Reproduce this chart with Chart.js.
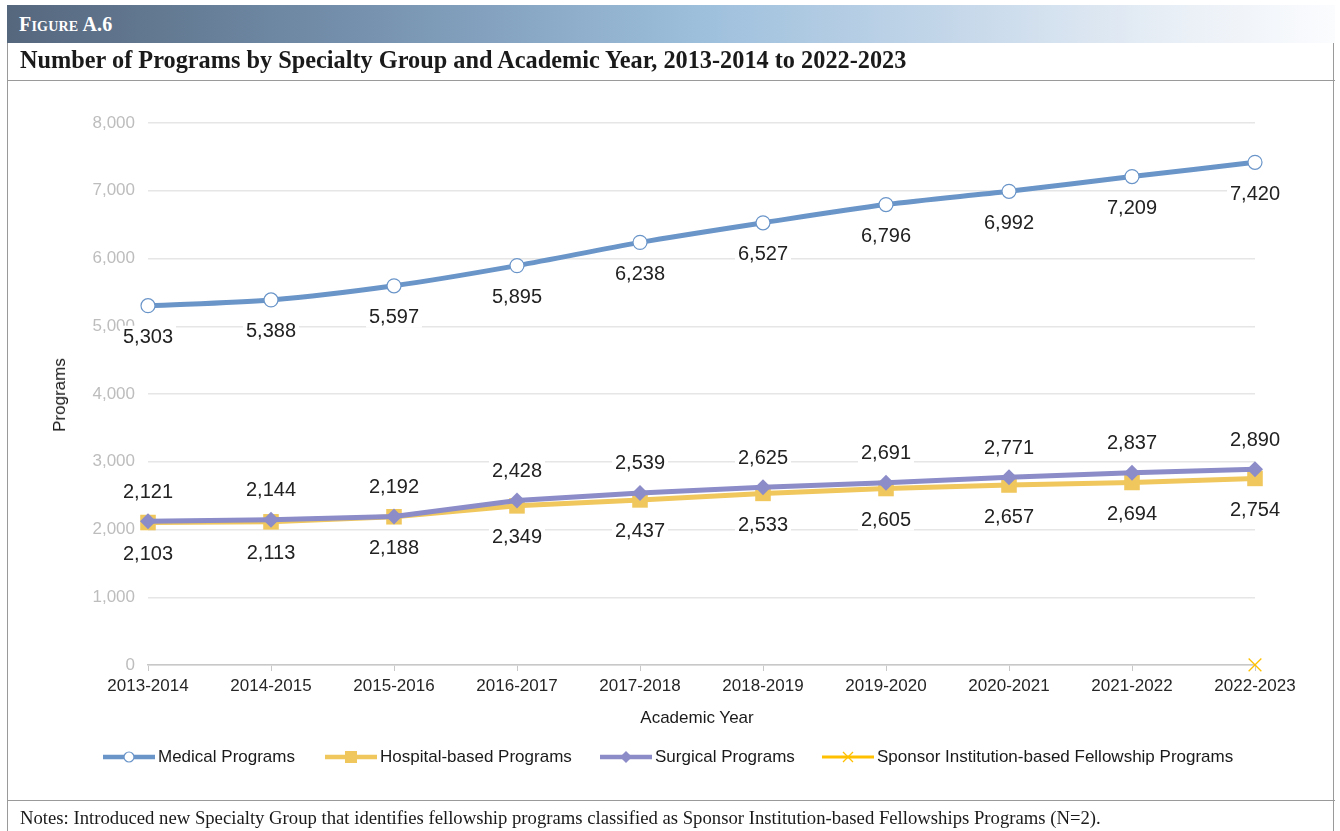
<!DOCTYPE html>
<html>
<head>
<meta charset="utf-8">
<script src="https://cdn.jsdelivr.net/npm/chart.js@4.4.1/dist/chart.umd.min.js"></script>
<style>
  html, body { margin:0; padding:0; background:#fff; }
  body { width:1340px; height:831px; position:relative; overflow:hidden; font-family:"Liberation Sans", Arial, sans-serif; }
  #wrap { position:absolute; left:0; top:0; width:1340px; height:831px; }
  .hdr { position:absolute; left:7px; top:5px; width:1328px; height:38px;
         background:linear-gradient(to right, #55677d 0%, #7793b0 28%, #9dbfdc 52%, #c6d8ea 72%, #e9eff6 88%, #fbfcfe 100%); }
  .hdr span { position:absolute; left:12px; top:8px; color:#fff; font-family:"Liberation Serif", serif; font-weight:bold; font-size:20px; font-variant:small-caps; letter-spacing:0.2px; }
  .box { position:absolute; left:7px; top:43px; width:1327px; height:788px; border-left:1px solid #9a9a9a; border-right:1px solid #9a9a9a; box-sizing:border-box; pointer-events:none; }
  .line1 { position:absolute; left:7px; top:80px; width:1328px; height:1px; background:#9a9a9a; }
  .line2 { position:absolute; left:7px; top:800px; width:1328px; height:1px; background:#9a9a9a; }
  .title { position:absolute; left:20px; top:46px; font-family:"Liberation Serif", serif; font-weight:bold; font-size:24.3px; color:#1a1a1a; white-space:nowrap; }
  .notes { position:absolute; left:20px; top:807px; font-family:"Liberation Serif", serif; font-size:18.7px; color:#1a1a1a; white-space:nowrap; }
  .ytitle { position:absolute; left:60px; top:395px; transform:translate(-50%,-50%) rotate(-90deg); font-size:17px; color:#1a1a1a; white-space:nowrap; }
  .xtitle { position:absolute; left:697px; top:718px; transform:translate(-50%,-50%); font-size:17px; color:#1a1a1a; white-space:nowrap; }
  .leg { position:absolute; top:747px; height:20px; font-size:17px; color:#1a1a1a; white-space:nowrap; }
  .leg svg { position:absolute; left:0; top:0; }
  .leg span { position:absolute; top:0px; line-height:20px; }
</style>
</head>
<body>
<div id="wrap"><canvas id="c"></canvas></div>
<div class="hdr"><span>Figure A.6</span></div>
<div class="box"></div>
<div class="line1"></div>
<div class="line2"></div>
<div class="title">Number of Programs by Specialty Group and Academic Year, 2013-2014 to 2022-2023</div>
<div class="ytitle">Programs</div>
<div class="xtitle">Academic Year</div>
<div id="legend"></div>
<div class="notes">Notes: Introduced new Specialty Group that identifies fellowship programs classified as Sponsor Institution-based Fellowships Programs (N=2).</div>
<script>
const years = ["2013-2014","2014-2015","2015-2016","2016-2017","2017-2018","2018-2019","2019-2020","2020-2021","2021-2022","2022-2023"];
const medical  = [5303, 5388, 5597, 5895, 6238, 6527, 6796, 6992, 7209, 7420];
const hospital = [2103, 2113, 2188, 2349, 2437, 2533, 2605, 2657, 2694, 2754];
const surgical = [2121, 2144, 2192, 2428, 2539, 2625, 2691, 2771, 2837, 2890];
const sponsor  = [null, null, null, null, null, null, null, null, null, 2];
const yTicks = [0, 1000, 2000, 3000, 4000, 5000, 6000, 7000, 8000];

const C_MED = "#6a95c9", C_HOS = "#f0c75c", C_SUR = "#8b8cc8", C_SPO = "#ffc000";
const fmt = v => v.toLocaleString("en-US");

const labelPlugin = {
  id: "valueLabels",
  afterDatasetsDraw(chart) {
    const ctx = chart.ctx;
    ctx.save();
    ctx.font = "20px 'Liberation Sans', Arial, sans-serif";
    ctx.textAlign = "center";
    ctx.textBaseline = "middle";
    chart.data.datasets.forEach((ds, i) => {
      if (!ds.labelPos) return;
      const meta = chart.getDatasetMeta(i);
      meta.data.forEach((pt, j) => {
        const v = ds.data[j];
        if (v == null) return;
        const y = pt.y + (ds.labelPos === "below" ? 31 : -30);
        const t = fmt(v);
        const w = ctx.measureText(t).width;
        ctx.fillStyle = "#fff";
        ctx.fillRect(pt.x - w/2 - 3, y - 11, w + 6, 22);
        ctx.fillStyle = "#222";
        ctx.fillText(t, pt.x, y + 1);
      });
    });
    ctx.restore();
  }
};

new Chart(document.getElementById("c"), {
  type: "line",
  data: {
    labels: years,
    datasets: [
      { label: "Medical Programs", data: medical, borderColor: C_MED, backgroundColor: "#fff",
        borderWidth: 5, tension: 0.3, pointStyle: "circle", pointRadius: 7, pointBorderWidth: 1.2,
        pointBorderColor: C_MED, pointBackgroundColor: "#fff", labelPos: "below", order: 3 },
      { label: "Hospital-based Programs", data: hospital, borderColor: C_HOS, backgroundColor: C_HOS,
        borderWidth: 5, tension: 0, pointStyle: "rect", pointRadius: 11, pointBorderWidth: 0,
        pointBackgroundColor: C_HOS, labelPos: "below", order: 2 },
      { label: "Surgical Programs", data: surgical, borderColor: C_SUR, backgroundColor: C_SUR,
        borderWidth: 5, tension: 0, pointStyle: "rectRot", pointRadius: 8, pointBorderWidth: 0,
        pointBackgroundColor: C_SUR, labelPos: "above", order: 1 },
      { label: "Sponsor Institution-based Fellowship Programs", data: sponsor, borderColor: C_SPO,
        backgroundColor: C_SPO, borderWidth: 3, showLine: false, pointStyle: "crossRot", pointRadius: 9,
        pointBorderWidth: 1.3, clip: false, order: 0 }
    ]
  },
  options: {
    responsive: true, maintainAspectRatio: false, animation: false,
    layout: { padding: { left: 0, right: 85, top: 123, bottom: 126 } },
    plugins: { legend: { display: false }, tooltip: { enabled: false } },
    scales: {
      x: {
        offset: false,
        grid: { display: true, drawOnChartArea: false, drawTicks: true, tickLength: 6, color: "#c8c8c8" },
        border: { display: true, color: "#c8c8c8", width: 1.5 },
        ticks: { color: "#262626", font: { size: 17, family: "'Liberation Sans', Arial" }, padding: 5, maxRotation: 0, autoSkip: false },
        afterFit: s => { s.height = 40; }
      },
      y: {
        min: 0, max: 8000,
        afterBuildTicks: s => { s.ticks = yTicks.map(v => ({ value: v })); },
        grid: { color: "#e6e6e6", lineWidth: 1.5, drawTicks: false },
        border: { display: false },
        ticks: { color: "#bdbdbd", font: { size: 17, family: "'Liberation Sans', Arial" }, padding: 13, callback: v => fmt(v) },
        afterFit: s => { s.width = 148; }
      }
    }
  },
  plugins: [labelPlugin]
});

// legend
const legendItems = [
  { text: "Medical Programs", color: C_MED, style: "circle", x: 103 },
  { text: "Hospital-based Programs", color: C_HOS, style: "rect", x: 325 },
  { text: "Surgical Programs", color: C_SUR, style: "diamond", x: 600 },
  { text: "Sponsor Institution-based Fellowship Programs", color: C_SPO, style: "cross", x: 822 }
];
const lg = document.getElementById("legend");
legendItems.forEach(it => {
  let mk = "";
  if (it.style === "circle") mk = `<circle cx="26" cy="10" r="5" fill="#fff" stroke="${it.color}" stroke-width="1.2"/>`;
  if (it.style === "rect") mk = `<rect x="20" y="4" width="12" height="12" fill="${it.color}"/>`;
  if (it.style === "diamond") mk = `<polygon points="26,4 32,10 26,16 20,10" fill="${it.color}"/>`;
  if (it.style === "cross") mk = `<path d="M21 5 L31 15 M31 5 L21 15" stroke="${it.color}" stroke-width="1.3"/>`;
  const lw = it.style === "cross" ? 3 : 4.5;
  lg.insertAdjacentHTML("beforeend",
    `<div class="leg" style="left:${it.x}px"><svg width="52" height="20"><line x1="0" y1="10" x2="52" y2="10" stroke="${it.color}" stroke-width="${lw}" stroke-linecap="round"/>${mk}</svg><span style="left:55px">${it.text}</span></div>`);
});
</script>
</body>
</html>
